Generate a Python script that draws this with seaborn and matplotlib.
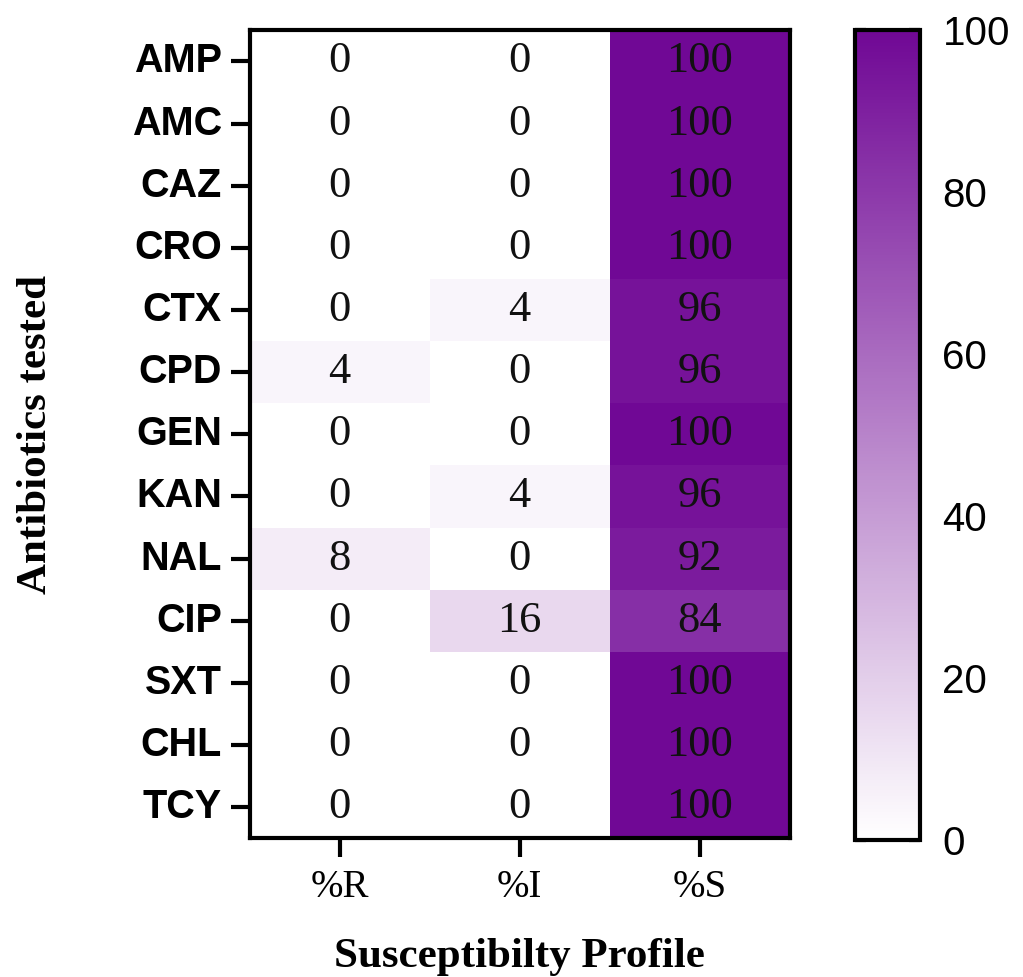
import pandas as pd
import matplotlib.pyplot as plt
import seaborn as sns
from matplotlib.colors import LinearSegmentedColormap

sns.set_theme(style="white")

antibiotics = ['AMP', 'AMC', 'CAZ', 'CRO', 'CTX', 'CPD', 'GEN', 'KAN', 'NAL', 'CIP', 'SXT', 'CHL', 'TCY']
profiles = ['%R', '%I', '%S']
pct_R = [0, 0, 0, 0, 0, 4, 0, 0, 8, 0, 0, 0, 0]
pct_I = [0, 0, 0, 0, 4, 0, 0, 4, 0, 16, 0, 0, 0]
pct_S = [100, 100, 100, 100, 96, 96, 100, 96, 92, 84, 100, 100, 100]

df = pd.DataFrame({'%R': pct_R, '%I': pct_I, '%S': pct_S}, index=antibiotics)

cmap = LinearSegmentedColormap.from_list('purp', ['#ffffff', '#700895'])

fig = plt.figure(figsize=(10.23, 9.77), dpi=100)
ax = fig.add_axes([0.244, 0.142, 0.528, 0.827])
cax = fig.add_axes([0.836, 0.140, 0.0635, 0.829])

sns.heatmap(df, ax=ax, cbar_ax=cax, cmap=cmap, vmin=0, vmax=100, annot=True, fmt='d',
            annot_kws={'fontsize': 32, 'family': 'Liberation Serif', 'color': '#111111'})

# frame + ticks
for s in ax.spines.values():
    s.set_visible(True)
    s.set_linewidth(3)
    s.set_color('black')
ax.tick_params(axis='both', length=14, width=3, color='black', bottom=True, left=True)
ax.tick_params(axis='y', pad=6)
ax.tick_params(axis='x', pad=8)
ax.set_yticklabels(antibiotics, rotation=0, fontsize=28.5, fontweight='bold', family='Liberation Sans', color='black')
ax.set_xticklabels(profiles, fontsize=28, family='Liberation Serif', color='black')
ax.set_xlabel('Susceptibilty Profile', fontsize=31, fontweight='bold', family='Liberation Serif', color='black')
ax.set_ylabel('Antibiotics tested', fontsize=31, fontweight='bold', family='Liberation Serif', color='black')
ax.xaxis.set_label_coords(0.5, -0.124)
ax.yaxis.set_label_coords(-0.36, 0.5)

# colorbar
cbar = ax.collections[0].colorbar
cbar.outline.set_visible(True)
cbar.outline.set_linewidth(3)
cbar.outline.set_edgecolor('black')
cbar.set_ticks([0, 20, 40, 60, 80, 100])
cax.tick_params(direction='in', length=8, width=3, color='black', left=True, right=True,
                labelsize=29, labelcolor='black', pad=16)
for t in cax.get_yticklabels():
    t.set_family('Liberation Sans')

fig.savefig('out.png', dpi=100)
